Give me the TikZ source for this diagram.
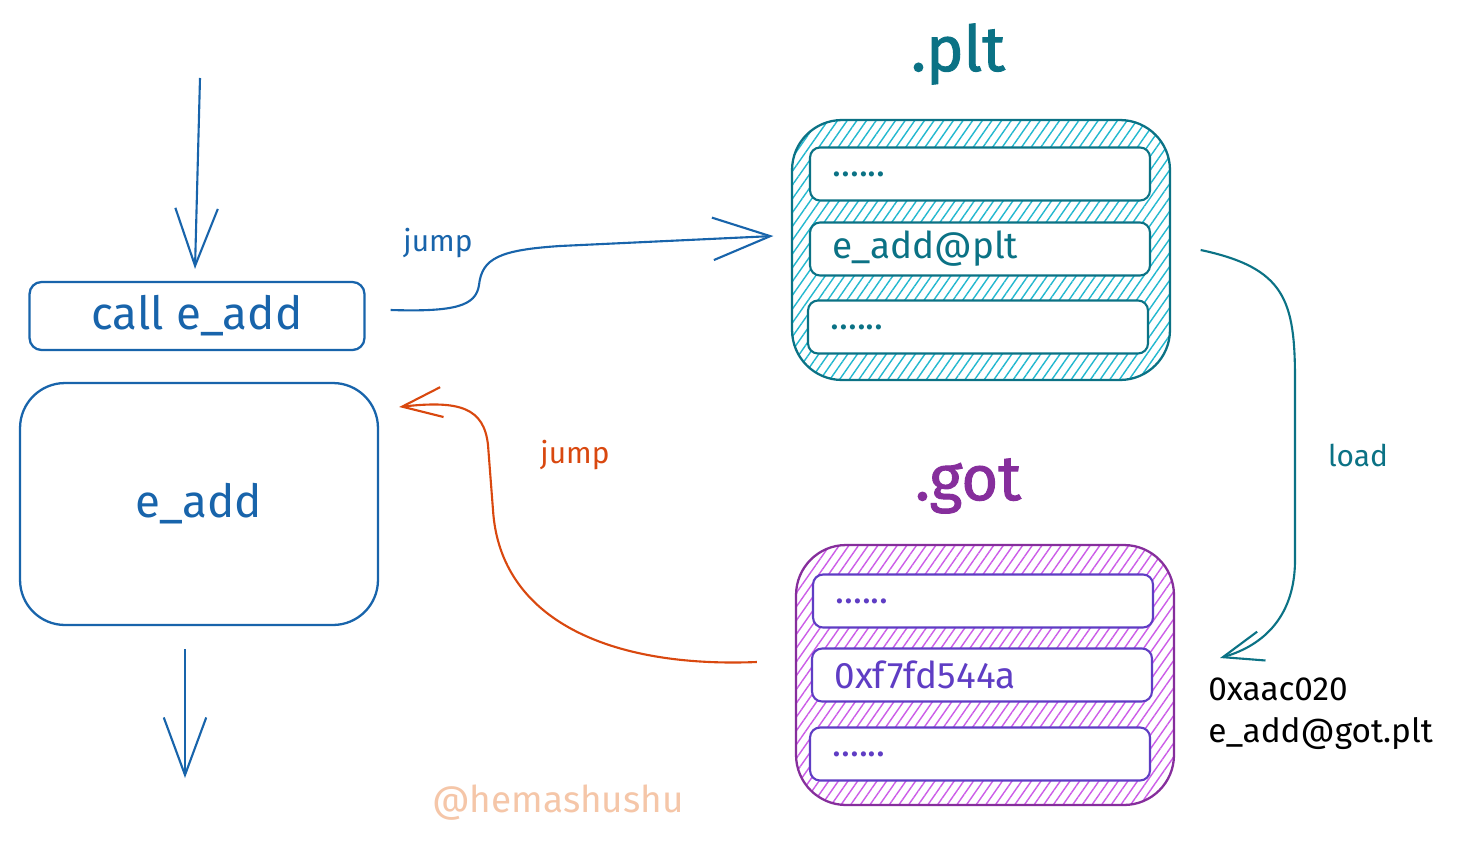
\documentclass[tikz,border=0pt]{standalone}
\usepackage{fontspec}
\setmainfont{Fira Sans}
\usetikzlibrary{arrows.meta,patterns.meta,calc}
\definecolor{Cblue}{HTML}{1864AB}
\definecolor{Cteal}{HTML}{0B7285}
\definecolor{Ccyan}{HTML}{22B8CF}
\definecolor{Cgrape}{HTML}{862E9C}
\definecolor{Chatch}{HTML}{CC5DE8}
\definecolor{Cviolet}{HTML}{5F3DC4}
\definecolor{Corange}{HTML}{D9480F}
\definecolor{Cmark}{HTML}{F5C6A8}

\tikzset{
  bigtext/.style={font=\fontsize{26}{30}\selectfont},
  rowtext/.style={font=\fontsize{21}{25}\selectfont},
  smalltext/.style={font=\fontsize{17}{20}\selectfont},
  title/.style={font=\fontsize{36}{40}\selectfont\addfontfeature{FakeBold=1.5}},
  codebox/.style={draw=Cblue, line width=1.3pt, text=Cblue, bigtext},
  table/.style={line width=1.3pt, rounded corners=1cm,
    minimum width=7.56cm, minimum height=5.2cm},
  row/.style={draw, fill=white, line width=1.2pt, rounded corners=0.2cm,
    minimum height=1.06cm, text width=5.9cm, inner xsep=0.45cm,
    align=left, rowtext},
  bigarrow/.style={line width=1.2pt, -{Straight Barb[length=1.15cm,width=0.85cm,line width=1.2pt]}},
  arrow/.style={line width=1.2pt, -{Straight Barb[length=0.8cm,width=0.6cm,line width=1.2pt]}},
}

\begin{document}
\begin{tikzpicture}[x=0.02cm, y=-0.02cm]

  \useasboundingbox[fill=white] (0,0) rectangle (1462,848);

  % Caller side.
  \node[codebox, rounded corners=0.24cm, minimum width=6.7cm, minimum height=1.36cm]
    (call) at (197,316) {call e\_add};
  \node[codebox, rounded corners=0.9cm, minimum width=7.16cm, minimum height=4.84cm]
    (eadd) at (199,504) {e\_add};

  \coordinate (entry) at (200,78);
  \coordinate (exit) at (185,778);
  \draw[bigarrow, Cblue] (entry) -- ($(call.north)+(-2,-12)$);
  \draw[bigarrow, Cblue] ($(eadd.south)+(-14,23)$) -- (exit);

  % .plt table.
  \node[title, text=Cteal] (plttitle) at (958,54) {.plt};
  \node[table, draw=Cteal, pattern={Lines[angle=55,distance=4.5pt,line width=0.8pt]},
    pattern color=Ccyan] (plt) at (981,250) {};
  \node[row, draw=Cteal, text=Cteal] (plta) at (980,174) {......};
  \node[row, draw=Cteal, text=Cteal] (pltb) at (980,249) {e\_add@plt};
  \node[row, draw=Cteal, text=Cteal] (pltc) at (978,327) {......};

  % .got table.
  \node[title, text=Cgrape] (gottitle) at (968,486) {.got};
  \node[table, draw=Cgrape, pattern={Lines[angle=55,distance=4.5pt,line width=0.8pt]},
    pattern color=Chatch] (got) at (985,675) {};
  \node[row, draw=Cviolet, text=Cviolet] (gota) at (983,601) {......};
  \node[row, draw=Cviolet, text=Cviolet] (gotb) at (982,675) {0xf7fd544a};
  \node[row, draw=Cviolet, text=Cviolet] (gotc) at (980,754) {......};

  \node[font=\fontsize{19}{24}\selectfont, anchor=west, align=left, inner sep=0pt]
    (gotaddr) at (1208,714) {0xaac020\\e\_add@got.plt};

  % jump to plt.
  \draw[bigarrow, Cblue] ($(call.east)+(25,-6)$)
    .. controls (455,312) and (476,306) .. (479,285)
    .. controls (482,258) and (500,250) .. (560,246)
    -- ($(plt.west)+(-18,-14)$);
  \node[smalltext, text=Cblue] (jumpa) at (438,243) {jump};

  % load from got.
  \coordinate (loadend) at (1220,658);
  \draw[arrow, Cteal] ($(plt.east)+(30,0)$)
    .. controls (1285,268) and (1295,300) .. (1295,380)
    -- (1295,560)
    .. controls (1295,615) and (1265,645) .. (loadend);
  \node[smalltext, text=Cteal] (load) at (1358,455) {load};

  % jump back to e_add.
  \draw[arrow, Corange] ($(got.west)+(-38,-13)$)
    .. controls (610,668) and (500,620) .. (493,510)
    -- (488,445)
    .. controls (484,408) and (460,400) .. ($(eadd.east)+(20,-97)$);
  \node[smalltext, text=Corange] (jumpb) at (575,455) {jump};

  \node[rowtext, text=Cmark] (mark) at (558,803) {@hemashushu};

\end{tikzpicture}
\end{document}
